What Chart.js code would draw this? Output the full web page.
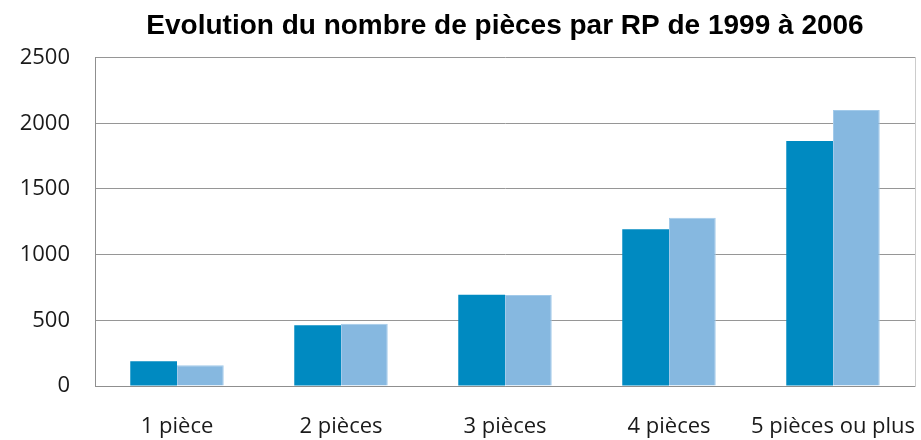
<!DOCTYPE html>
<html>
<head>
<meta charset="utf-8">
<title>Evolution du nombre de pièces par RP</title>
<script src="https://cdn.jsdelivr.net/npm/chart.js@4/dist/chart.umd.min.js"></script>
<style>
  html, body { margin: 0; padding: 0; background: #fff; }
  #wrap { width: 921px; height: 440px; }
</style>
</head>
<body>
<div id="wrap"><canvas id="chart"></canvas></div>
<script>
// data
const categories = ['1 pièce', '2 pièces', '3 pièces', '4 pièces', '5 pièces ou plus'];
const rp1999 = [188, 463, 695, 1194, 1865];
const rp2006 = [158, 473, 693, 1280, 2101];
const yTicks = [0, 500, 1000, 1500, 2000, 2500];

const labelFont = { family: '"Open Sans", "DejaVu Sans", sans-serif', size: 22 };

new Chart(document.getElementById('chart'), {
  type: 'bar',
  data: {
    labels: categories,
    datasets: [
      { label: '1999', data: rp1999, backgroundColor: '#008AC1' },
      { label: '2006', data: rp2006, backgroundColor: '#86B8E0', borderColor: '#A2CAEA', borderWidth: 1 }
    ]
  },
  options: {
    responsive: true,
    maintainAspectRatio: false,
    animation: false,
    layout: { padding: 0 },
    datasets: {
      bar: { categoryPercentage: 0.57, barPercentage: 1.0 }
    },
    plugins: {
      legend: { display: false },
      tooltip: { enabled: false },
      title: {
        display: true,
        fullSize: false, // centre it over the plot area, like the original
        text: 'Evolution du nombre de pièces par RP de 1999 à 2006',
        color: '#000',
        font: { family: '"Liberation Sans", Arial, sans-serif', size: 28, weight: 'bold' },
        padding: { top: 9, bottom: 15 }
      }
    },
    scales: {
      x: {
        grid: { display: false, drawTicks: false },
        border: { display: true, color: '#8f8f8f', width: 1 },
        ticks: { color: '#1a1a1a', font: labelFont, padding: 28, maxRotation: 0, autoSkip: false },
        afterFit: s => { s.height = 54; s.paddingLeft = 0; s.paddingRight = 0; }
      },
      y: {
        min: 0,
        max: 2500,
        afterBuildTicks: s => { s.ticks = yTicks.map(v => ({ value: v })); },
        grid: { color: '#969696', lineWidth: 1, drawTicks: false },
        border: { display: true, color: '#8f8f8f', width: 1 },
        ticks: { color: '#1a1a1a', font: labelFont, padding: 25, callback: v => String(v) },
        afterFit: s => { s.width = 95; s.paddingTop = 0; s.paddingBottom = 0; }
      },
      yr: {
        position: 'right',
        min: 0,
        max: 2500,
        grid: { display: false, drawTicks: false },
        border: { display: true, color: '#cccccc', width: 1 },
        ticks: { display: false },
        afterFit: s => { s.width = 6; }
      }
    }
  }
});
</script>
</body>
</html>
